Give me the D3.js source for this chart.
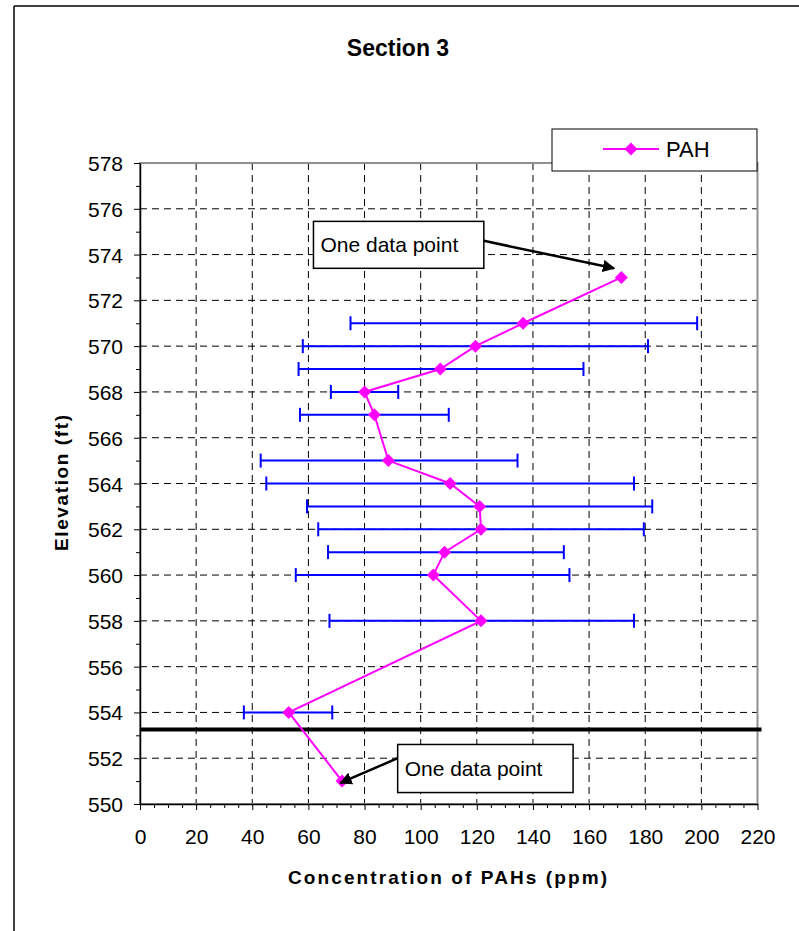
<!DOCTYPE html>
<html>
<head>
<meta charset="utf-8">
<script src="https://cdn.jsdelivr.net/npm/d3@7"></script>
<style>
  html, body { margin: 0; padding: 0; background: #fff; }
  svg { display: block; font-family: Arial, "Liberation Sans", sans-serif; }
</style>
</head>
<body>
<svg id="chart" width="799" height="931"></svg>
<script>
// ---- data ----
const elevations = [573, 571, 570, 569, 568, 567, 565, 564, 563, 562, 561, 560, 558, 554, 551];
const pah        = [171.5, 136.5, 119.5, 107, 80, 83.5, 88.5, 110.5, 121, 121.5, 108.5, 104.5, 121.5, 53, 72];
const errLow     = [null, 75, 58, 56.5, 68, 57, 43, 45, 59.5, 63.5, 67, 55.5, 67.5, 37, null];
const errHigh    = [null, 198.5, 181, 158, 92, 110, 134.5, 176, 182.5, 179.5, 151, 153, 176, 68.5, null];
const xTicks = [0, 20, 40, 60, 80, 100, 120, 140, 160, 180, 200, 220];
const yTicks = [550, 552, 554, 556, 558, 560, 562, 564, 566, 568, 570, 572, 574, 576, 578];
const boundaryElevation = 553.25;
const seriesName = "PAH";
const titleText = "Section 3";
const xLabel = "Concentration of PAHs (ppm)";
const yLabel = "Elevation (ft)";
const annotations = [
  { text: "One data point", x0: 61.8, x1: 122.5, yTop: 575.45, yBot: 573.4, fromSide: "right", fromY: 574.6, toX: 168.9, toY: 573.4 },
  { text: "One data point", x0: 91.8, x1: 154.3, yTop: 552.6, yBot: 550.5, fromSide: "left", fromY: 552.0, toX: 71.4, toY: 550.92 }
];

// ---- layout ----
const svg = d3.select("#chart");
const x = d3.scaleLinear().domain([0, 220]).range([140, 757.5]);
const y = d3.scaleLinear().domain([550, 578]).range([804, 163]);
const magenta = "#ff00ff", blue = "#0000ff";

// outer chart frame
svg.append("line").attr("x1", 14).attr("y1", 6).attr("x2", 799).attr("y2", 6).attr("stroke", "#000").attr("stroke-width", 1.5);
svg.append("line").attr("x1", 14).attr("y1", 6).attr("x2", 14).attr("y2", 931).attr("stroke", "#000").attr("stroke-width", 1.5);

// title
svg.append("text").attr("x", 398).attr("y", 56).attr("text-anchor", "middle")
  .attr("font-size", 23).attr("font-weight", "bold").text(titleText);

// grid
const grid = svg.append("g");
grid.selectAll("line.v").data(xTicks.filter(d => d > 0 && d < 220)).join("line")
  .attr("x1", d => x(d)).attr("x2", d => x(d)).attr("y1", y(578)).attr("y2", y(550))
  .attr("stroke", "#000").attr("stroke-width", 1).attr("stroke-dasharray", "7,5");
grid.selectAll("line.h").data(yTicks.filter(d => d > 550 && d < 578)).join("line")
  .attr("x1", x(0)).attr("x2", x(220)).attr("y1", d => y(d)).attr("y2", d => y(d))
  .attr("stroke", "#000").attr("stroke-width", 1).attr("stroke-dasharray", "7,5");

// plot area border (gray)
svg.append("rect").attr("x", x(0)).attr("y", y(578)).attr("width", x(220) - x(0)).attr("height", y(550) - y(578))
  .attr("fill", "none").attr("stroke", "#909090").attr("stroke-width", 2);

// axes
const yMinor = d3.range(551, 578, 2);
svg.append("g").attr("transform", `translate(${x(0)},0)`)
  .call(d3.axisLeft(y).tickValues(yMinor).tickSize(4).tickFormat(""))
  .call(g => g.select(".domain").remove());
const yAxis = svg.append("g").attr("transform", `translate(${x(0)},0)`)
  .call(d3.axisLeft(y).tickValues(yTicks).tickSize(6).tickSizeOuter(0).tickFormat(d3.format("d")));
yAxis.selectAll("text").attr("x", -17).attr("dy", "0.36em").attr("font-size", 21).attr("fill", "#000");

const xMinor = d3.range(0, 221, 5).filter(d => d % 20 !== 0);
svg.append("g").attr("transform", `translate(0,${y(550)})`)
  .call(d3.axisBottom(x).tickValues(xMinor).tickSize(4).tickFormat(""))
  .call(g => g.select(".domain").remove());
const xAxis = svg.append("g").attr("transform", `translate(0,${y(550)})`)
  .call(d3.axisBottom(x).tickValues(xTicks).tickSize(6).tickSizeOuter(0).tickFormat(d3.format("d")));
xAxis.selectAll("text").attr("y", 40).attr("dy", null).attr("font-size", 21).attr("fill", "#000");
svg.selectAll(".domain").attr("stroke", "#000").attr("stroke-width", 1.5);
svg.selectAll(".tick line").attr("stroke", "#000");

// axis labels
svg.append("text").attr("x", 447.5).attr("y", 884).attr("text-anchor", "middle")
  .attr("font-size", 19).attr("font-weight", "bold")
  .attr("textLength", 319).attr("lengthAdjust", "spacing").text(xLabel);
svg.append("text").attr("transform", "translate(68,483) rotate(-90)").attr("text-anchor", "middle")
  .attr("font-size", 19).attr("font-weight", "bold")
  .attr("textLength", 136).attr("lengthAdjust", "spacing").text(yLabel);

// boundary line
svg.append("line").attr("x1", x(0)).attr("x2", x(220) + 4)
  .attr("y1", y(boundaryElevation)).attr("y2", y(boundaryElevation))
  .attr("stroke", "#000").attr("stroke-width", 4);

// error bars
const rows = elevations.map((e, i) => ({ e, v: pah[i], lo: errLow[i], hi: errHigh[i] }));
const eb = svg.append("g").attr("stroke", blue).attr("stroke-width", 2).attr("fill", "none");
const withErr = rows.filter(r => r.lo != null);
eb.selectAll("line.bar").data(withErr).join("line")
  .attr("x1", r => x(r.lo)).attr("x2", r => x(r.hi)).attr("y1", r => y(r.e)).attr("y2", r => y(r.e));
eb.selectAll("line.capL").data(withErr).join("line")
  .attr("x1", r => x(r.lo)).attr("x2", r => x(r.lo)).attr("y1", r => y(r.e) - 7).attr("y2", r => y(r.e) + 7);
eb.selectAll("line.capR").data(withErr).join("line")
  .attr("x1", r => x(r.hi)).attr("x2", r => x(r.hi)).attr("y1", r => y(r.e) - 7).attr("y2", r => y(r.e) + 7);

// series line + markers
const line = d3.line().x(r => x(r.v)).y(r => y(r.e));
svg.append("path").datum(rows).attr("d", line).attr("fill", "none")
  .attr("stroke", magenta).attr("stroke-width", 2);
const diamond = "M0,-6.5L6.5,0L0,6.5L-6.5,0Z";
svg.append("g").selectAll("path").data(rows).join("path")
  .attr("transform", r => `translate(${x(r.v)},${y(r.e)})`)
  .attr("d", diamond).attr("fill", magenta);

// annotations
const defs = svg.append("defs");
defs.append("marker").attr("id", "arrow").attr("viewBox", "0 0 10 10").attr("refX", 9).attr("refY", 5)
  .attr("markerWidth", 5).attr("markerHeight", 5).attr("orient", "auto")
  .append("path").attr("d", "M0,0L10,5L0,10Z").attr("fill", "#000");
annotations.forEach(a => {
  const bx = x(a.x0), bw = x(a.x1) - x(a.x0), by = y(a.yTop), bh = y(a.yBot) - y(a.yTop);
  const sx = a.fromSide === "right" ? x(a.x1) : x(a.x0);
  svg.append("line").attr("x1", sx).attr("y1", y(a.fromY)).attr("x2", x(a.toX)).attr("y2", y(a.toY))
    .attr("stroke", "#000").attr("stroke-width", 2.5).attr("marker-end", "url(#arrow)");
  svg.append("rect").attr("x", bx).attr("y", by).attr("width", bw).attr("height", bh)
    .attr("fill", "#fff").attr("stroke", "#000").attr("stroke-width", 1.5);
  svg.append("text").attr("x", bx + 7).attr("y", by + bh / 2).attr("dy", "0.35em")
    .attr("font-size", 21).text(a.text);
});

// legend
const lg = svg.append("g");
lg.append("rect").attr("x", 552).attr("y", 129).attr("width", 205).attr("height", 42)
  .attr("fill", "#fff").attr("stroke", "#000").attr("stroke-width", 1);
lg.append("line").attr("x1", 603).attr("x2", 659).attr("y1", 149).attr("y2", 149)
  .attr("stroke", magenta).attr("stroke-width", 2);
lg.append("path").attr("transform", "translate(631,149)").attr("d", diamond).attr("fill", magenta);
lg.append("text").attr("x", 666).attr("y", 157).attr("font-size", 22).text(seriesName);
</script>
</body>
</html>
